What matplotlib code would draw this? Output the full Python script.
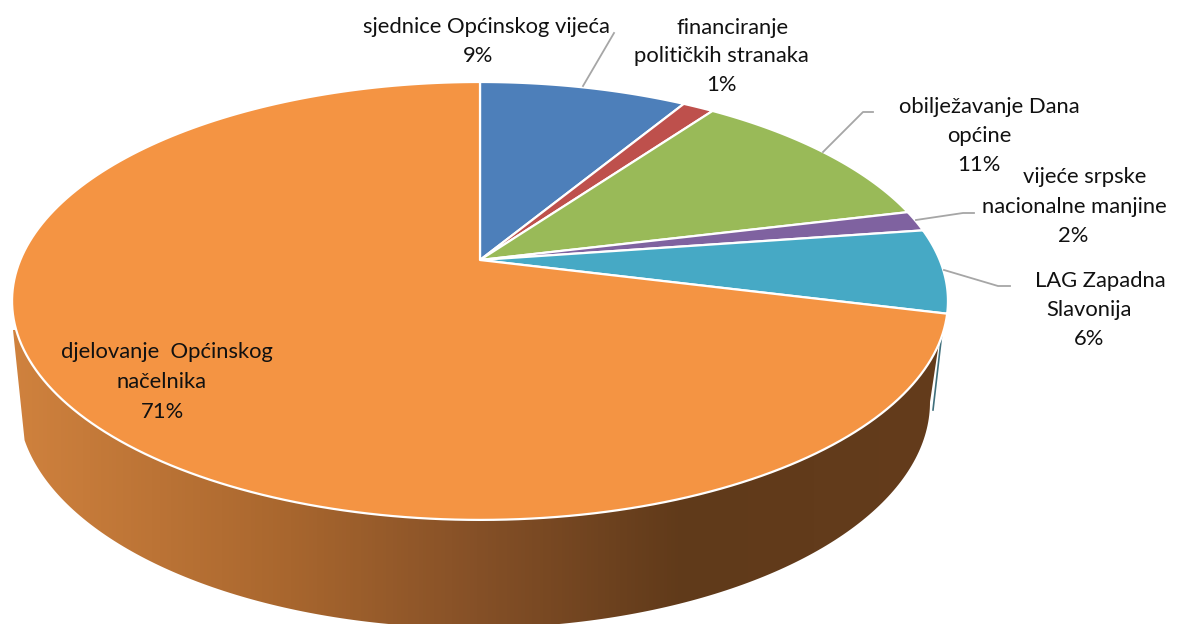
import numpy as np
import matplotlib
matplotlib.use("Agg")
import matplotlib.pyplot as plt
from matplotlib.colors import LinearSegmentedColormap
from matplotlib.patches import Polygon

plt.rcParams['font.family'] = ['Lato', 'DejaVu Sans']

# Data (percent, clockwise from 12 o'clock)
names = [
    ["sjednice Općinskog vijeća"],
    ["financiranje", "političkih stranaka"],
    ["obilježavanje Dana", "općine"],
    ["vijeće srpske", "nacionalne manjine"],
    ["LAG Zapadna", "Slavonija"],
    ["djelovanje  Općinskog", "načelnika"],
]
values = [8.6, 1.3, 11.3, 1.5, 6.2, 71.1]
colors = ["#4D7FBA", "#BE504C", "#99BA58", "#7F62A0", "#46A9C5", "#F49443"]

# Label line centres, one (x, y) for each text line
label_pos = [
    [(486, 27), (478, 56)],
    [(733, 28), (721, 56), (721, 85)],
    [(989, 107), (979, 136), (979, 165)],
    [(1085, 177), (1074, 207), (1073, 236)],
    [(1100, 281), (1089, 310), (1089, 339)],
    [(167, 352), (162, 382), (162, 412)],
]
# Leader lines
leaders = [
    [(583, 86), (614, 33)],
    [(823, 152), (863, 112), (873, 112)],
    [(916, 220), (963, 213), (974, 213)],
    [(944, 270), (998, 286), (1010, 286)],
]

# Perspective of the pie top: apex sits above the centre of the ellipse
cx, cy = 480, 260
a, b, k = 211.3, 459.7, 0.187


def proj(theta):
    w = 1 + k * np.cos(theta)
    return cx + b * np.sin(theta) / w, cy - a * np.cos(theta) / w


fig = plt.figure(figsize=(11.79, 6.24), dpi=100)
ax = fig.add_axes([0, 0, 1, 1])
ax.set_xlim(0, 1179)
ax.set_ylim(624, 0)
ax.axis("off")

# Side wall of the big slice, gradient clipped to the outline
t = np.linspace(np.pi + 0.17, 2 * np.pi, 200)
bx = 474 + 456 * np.cos(t)
by = 402 - 226 * np.sin(t)
side = np.column_stack([np.r_[13, bx, 943], np.r_[330, by, 316]])
side_cmap = LinearSegmentedColormap.from_list("side", [
    (0.0, "#D0823E"), (0.3, "#A8662E"), (0.5, "#855027"),
    (0.72, "#603A1A"), (1.0, "#643C1C")])
clip = Polygon(side, closed=True, transform=ax.transData, facecolor="none", edgecolor="none")
ax.add_patch(clip)
im = ax.imshow(np.linspace(0, 1, 256).reshape(1, -1), cmap=side_cmap, extent=(10, 945, 640, 300),
               aspect="auto", zorder=1)
im.set_clip_path(clip)
ax.set_xlim(0, 1179)
ax.set_ylim(624, 0)

# Edge of the teal slice seen from the side
ax.plot([944, 933], [315, 410], color="#3F6F7C", lw=1.2, zorder=1)

# Top faces
start = np.cumsum([0] + values[:-1]) / sum(values) * 2 * np.pi
for s, v, c in zip(start, values, colors):
    th = np.linspace(s, s + v / sum(values) * 2 * np.pi, 200)
    x, y = proj(th)
    ax.fill(np.r_[cx, x], np.r_[cy, y], facecolor=c, edgecolor="white", lw=1.6,
            joinstyle="round", zorder=2)

for pts in leaders:
    ax.plot(*zip(*pts), color="#A6A6A6", lw=1.3, zorder=3)

for lines, v, pos in zip(names, values, label_pos):
    for txt, (x, y) in zip(lines + [f"{v:.0f}%"], pos):
        ax.text(x, y, txt, ha="center", va="center", fontsize=15.8, color="#111111", zorder=4)

fig.savefig("out.png", dpi=100)
